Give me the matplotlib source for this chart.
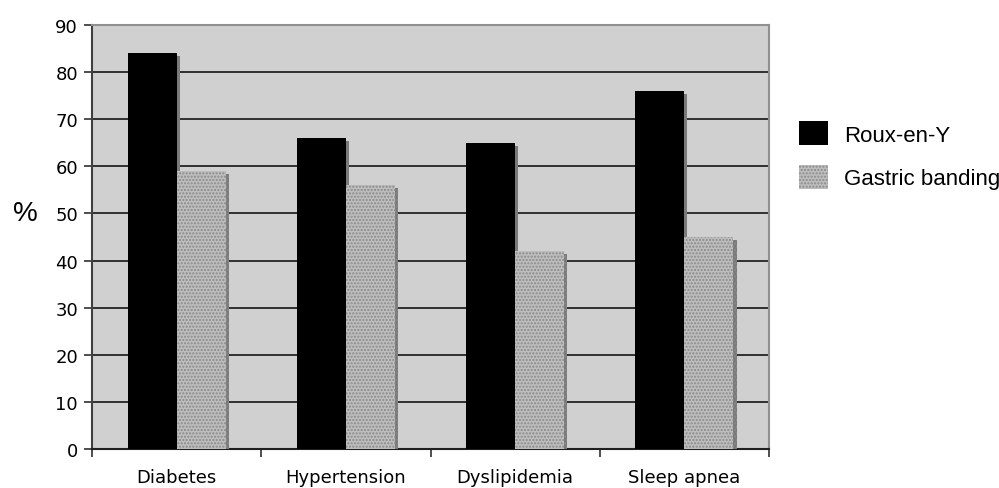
import numpy as np
import matplotlib
matplotlib.use('Agg')
import matplotlib.pyplot as plt
import matplotlib.patheffects as pe
from matplotlib.patches import Patch

categories = ['Diabetes', 'Hypertension', 'Dyslipidemia', 'Sleep apnea']
roux = [84, 66, 65, 76]
banding = [59, 56, 42, 45]
series_names = ['Roux-en-Y', 'Gastric banding']

fig = plt.figure(figsize=(9.99, 4.89), dpi=100)
ax = fig.add_axes([0.0921, 0.0798, 0.6777, 0.867])
ax.set_facecolor('#d0d0d0')

x = np.arange(len(categories))
w = 0.29
shadow = [pe.SimplePatchShadow(offset=(2.2, -2.2), shadow_rgbFace='#7a7a7a', alpha=1.0), pe.Normal()]

b1 = ax.bar(x - w / 2, roux, w, color='black', zorder=3)
b2 = ax.bar(x + w / 2, banding, w, color='#bdbdbd', hatch='.....', edgecolor='#8a8a8a',
            linewidth=0, zorder=3)
for b in list(b1) + list(b2):
    b.set_path_effects(shadow)

ax.set_xlim(-0.5, len(categories) - 0.5)
ax.set_ylim(0, 90)
ax.set_yticks(range(0, 91, 10))
ax.yaxis.grid(True, color='#303030', linewidth=1.4, zorder=1)
ax.set_axisbelow(True)

ax.set_xticks(x)
ax.set_xticklabels(categories, fontsize=13)
ax.set_xticks(np.arange(-0.5, len(categories), 1), minor=True)
ax.tick_params(axis='x', which='major', length=0, pad=14)
ax.tick_params(axis='x', which='minor', length=6, width=1.2, color='#303030')
ax.tick_params(axis='y', length=6, width=1.2, color='#303030', labelsize=13, pad=4)

for s in ['top', 'right']:
    ax.spines[s].set_color('#909090')
    ax.spines[s].set_linewidth(1.5)
ax.spines['left'].set_color('#404040')
ax.spines['left'].set_linewidth(1.5)
ax.spines['bottom'].set_color('#202020')
ax.spines['bottom'].set_linewidth(1.5)

fig.text(0.025, 0.562, '%', fontsize=20, family='Liberation Sans', va='center', ha='center')

handles = [Patch(facecolor='black'),
           Patch(facecolor='#bdbdbd', hatch='.....', edgecolor='#8a8a8a', linewidth=0)]
fig.legend(handles, series_names, loc='upper left', bbox_to_anchor=(0.800, 0.75),
           frameon=False, prop={'family': 'Liberation Sans', 'size': 16},
           borderpad=0, borderaxespad=0,
           handlelength=1.3, handleheight=1.3, labelspacing=0.85, handletextpad=0.7)

fig.savefig('out.png', dpi=100)
